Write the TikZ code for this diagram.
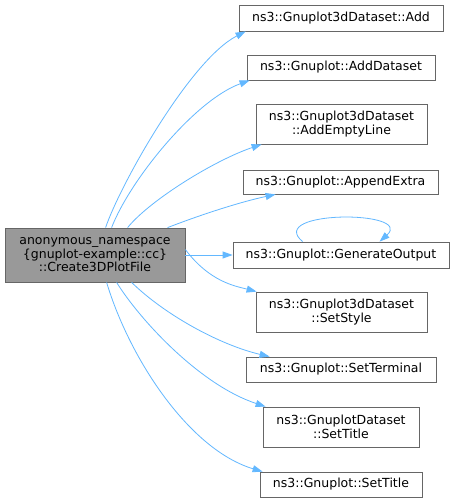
\documentclass[tikz,border=0pt]{standalone}
\usepackage{fontspec}
\setmainfont{DejaVu Sans}
\usetikzlibrary{arrows.meta}
\definecolor{edgeblue}{HTML}{63B8FF}
\definecolor{boxgray}{HTML}{666666}
\definecolor{mainfill}{HTML}{999999}
\begin{document}
\begin{tikzpicture}[x=1pt,y=-1pt,
  box/.style={draw=boxgray,fill=white,line width=0.8pt,inner sep=0pt,align=center,
    font=\fontsize{12.5}{13.5}\selectfont},
  mainbox/.style={box,fill=mainfill},
  edge/.style={draw=edgeblue,line width=0.8pt,-{Triangle[length=10pt,width=7pt]}}]
\useasboundingbox[fill=white] (0,0) rectangle (455,503);
\node[mainbox,minimum width=180pt,minimum height=54pt] (main) at (95,255)
  {anonymous\_namespace\\\{gnuplot-example::cc\}\\::Create3DPlotFile};
\node[box,minimum width=204pt,minimum height=26pt] (add) at (341,18) {ns3::Gnuplot3dDataset::Add};
\node[box,minimum width=188pt,minimum height=25pt] (adddataset) at (341,67.5) {ns3::Gnuplot::AddDataset};
\node[box,minimum width=171pt,minimum height=40pt] (addempty) at (341.5,124) {ns3::Gnuplot3dDataset\\::AddEmptyLine};
\node[box,minimum width=195pt,minimum height=24pt] (append) at (340.5,182) {ns3::Gnuplot::AppendExtra};
\node[box,minimum width=216pt,minimum height=26pt] (genout) at (341,255) {ns3::Gnuplot::GenerateOutput};
\node[box,minimum width=171pt,minimum height=40pt] (setstyle) at (341.5,312) {ns3::Gnuplot3dDataset\\::SetStyle};
\node[box,minimum width=190pt,minimum height=25pt] (setterm) at (341,369.5) {ns3::Gnuplot::SetTerminal};
\node[box,minimum width=156pt,minimum height=40pt] (dstitle) at (341,427) {ns3::GnuplotDataset\\::SetTitle};
\node[box,minimum width=162pt,minimum height=25pt] (settitle) at (341,484.5) {ns3::Gnuplot::SetTitle};

\draw[edge] ([xshift=101pt]main.north west) .. controls (120,185) and (190,60) .. ([xshift=7pt]add.south west);
\draw[edge] ([xshift=107pt]main.north west) .. controls (130,180) and (195,100) .. ([xshift=3pt]adddataset.south west);
\draw[edge] ([xshift=123pt]main.north west) .. controls (150,200) and (215,160) .. ([xshift=6pt]addempty.south west);
\draw[edge] ([xshift=163pt]main.north west) .. controls (200,215) and (240,202) .. ([xshift=33pt]append.south west);
\draw[edge] (main.east) -- (genout.west);
\draw[edge] ([yshift=-22pt]main.north east) .. controls (210,282) and (235,286) .. ([xshift=1pt]setstyle.north west);
\draw[edge] ([xshift=127pt]main.south west) .. controls (165,315) and (220,345) .. ([xshift=24pt]setterm.north west);
\draw[edge] ([xshift=112pt]main.south west) .. controls (140,320) and (200,385) .. ([xshift=3pt]dstitle.north west);
\draw[edge] ([xshift=102pt]main.south west) .. controls (130,360) and (190,450) .. ([xshift=3pt]settitle.north west);
\draw[edge] ([xshift=70pt]genout.north west) .. controls (265,210) and (415,210) .. ([xshift=147pt]genout.north west);
\end{tikzpicture}
\end{document}
